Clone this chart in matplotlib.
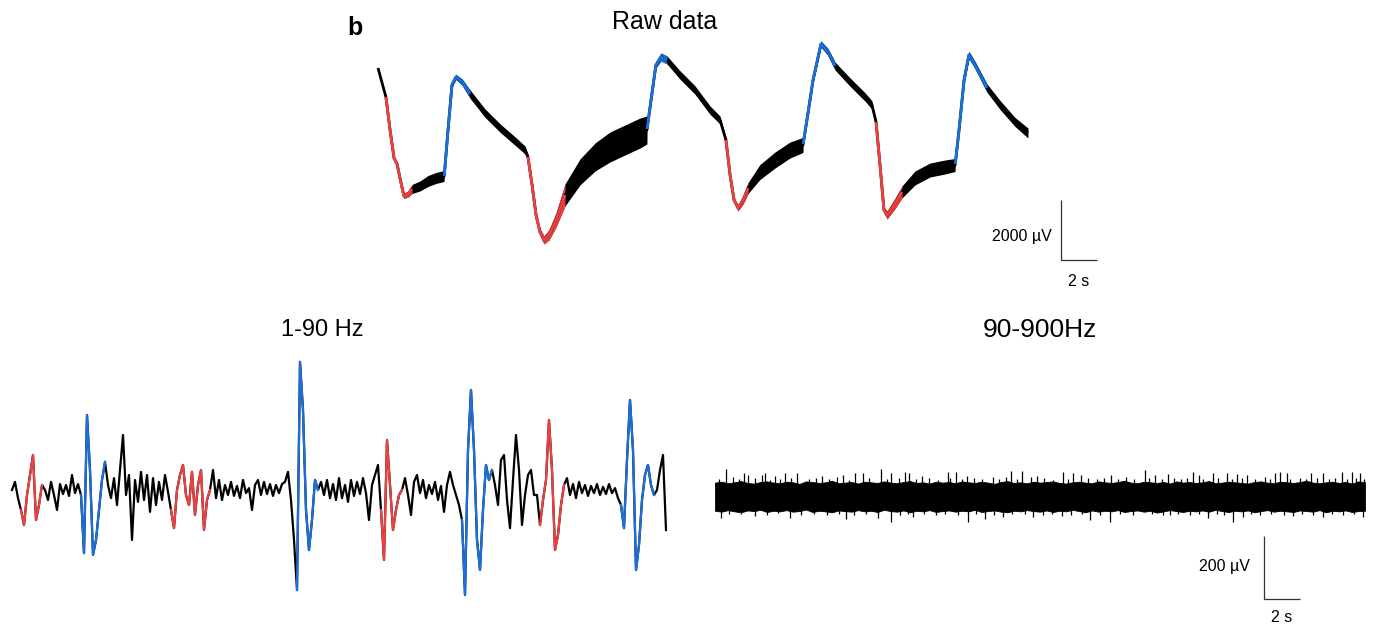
import numpy as np
import matplotlib.pyplot as plt

plt.rcParams['font.family'] = ['Liberation Sans', 'DejaVu Sans']

W, H = 1375, 625
RED = '#ef4040'
BLUE = '#1b6fdc'

# raw recording: key points (s, uV) and half-width of the fast ripple band (uV)
raw_t = [
    0.00, 0.44, 0.67, 0.89, 1.06, 1.22, 1.44, 1.67, 1.89, 2.33,
    2.78, 3.22, 3.67, 3.68, 3.89, 4.11, 4.33, 4.67, 5.11, 5.94, 6.78,
    7.61, 8.17, 8.33, 8.56, 8.78, 9.00, 9.22, 9.50, 9.89, 10.39,
    11.22, 12.06, 12.89, 13.72, 14.56, 14.94, 14.95, 15.17, 15.44, 15.72, 16.06,
    16.78, 17.61, 18.44, 19.00, 19.33, 19.56, 19.78, 20.00, 20.28, 20.56,
    21.22, 22.06, 22.89, 23.61, 23.62, 23.83, 24.17, 24.61, 25.00, 25.39, 26.22,
    27.06, 27.44, 27.67, 27.89, 28.11, 28.28, 28.67, 29.11, 29.83, 30.67,
    31.50, 32.06, 32.07, 32.28, 32.56, 32.83, 33.17, 33.83, 34.56, 35.39, 36.11,
]
raw_uv = [
    2733, 1767, 667, -267, -467, -933, -1533, -1467, -1300, -1200,
    -1033, -933, -867, -867, 667, 2167, 2433, 2267, 1867, 1233, 733,
    300, 0, -233, -1167, -2167, -2733, -3000, -2833, -2333, -1500,
    -733, -233, 100, 333, 567, 667, 700, 1667, 2833, 3100, 3000,
    2500, 2000, 1333, 1000, 333, -833, -1667, -1933, -1667, -1267,
    -733, -333, 0, 167, 200, 1000, 2333, 3533, 3267, 2800, 2267,
    1767, 1500, 933, -500, -2000, -2167, -1833, -1400, -933, -667,
    -567, -500, -467, 667, 2333, 3167, 2833, 2067, 1500, 933, 567,
]
raw_half = [
    33, 50, 50, 50, 67, 67, 83, 100, 150, 167,
    183, 183, 183, 50, 50, 67, 83, 100, 140, 140, 140,
    140, 133, 100, 50, 67, 100, 133, 167, 233, 367,
    433, 467, 500, 500, 500, 467, 83, 83, 100, 133, 133,
    140, 140, 140, 133, 83, 50, 67, 100, 133, 183,
    250, 267, 267, 250, 67, 67, 83, 100, 117, 133, 140,
    140, 140, 100, 50, 83, 133, 167, 200, 233, 233,
    233, 217, 67, 67, 83, 117, 117, 140, 150, 150, 167,
]
raw_red = [(0.44, 1.89), (8.33, 10.39), (19.33, 20.56), (27.67, 29.11)]
raw_blue = [(3.68, 5.11), (14.95, 16.06), (23.62, 25.39), (32.07, 33.83)]

# 1-90 Hz band, one sample every 1/6 s (uV)
lf_dt = 1 / 6
lf_uv = [
    0, 26, -26, -64, -112, -16, 48, 112, -96, -48,
    16, 0, -32, 26, -16, -64, 19, -13, 16, -19,
    48, -10, 19, -16, -202, 240, 64, -208, -160, -64,
    32, 90, 16, -26, 38, -48, 64, 176, -16, 48,
    -160, 32, -38, 58, -32, 48, -70, 38, -48, 26,
    -32, 48, -6, -64, -122, 0, 48, 80, -16, -48,
    58, -80, 16, 64, -128, -32, 0, 64, -26, 32,
    -32, 16, -16, 26, -19, 13, -26, 32, -10, 6,
    -64, 16, 32, -16, 26, -13, 19, -19, 16, -10,
    19, 26, 58, -32, -160, -320, 410, 256, -64, -192,
    -96, 32, 0, 26, -16, 32, -26, 19, -32, 38,
    -26, 16, -38, 32, -19, 26, -13, 38, -10, -96,
    16, 48, 80, -64, -224, 160, 16, -128, -64, -16,
    0, 38, -16, -80, 26, 48, -10, 32, -26, 16,
    -13, 26, -32, 13, -70, 16, 58, 16, -16, -48,
    -96, -336, 128, 320, 128, -160, -256, -64, 80, 32,
    64, 16, -48, 96, 112, -32, -122, 32, 176, 64,
    -112, -16, 48, 64, -16, -16, -112, -32, 32, 224,
    64, -192, -144, -48, 16, 38, -16, 19, -26, 26,
    -10, 16, -19, 13, -10, 19, -16, 10, -13, 19,
    -10, 6, -26, -48, -122, 96, 288, 128, -256, -176,
    -32, 48, 80, 16, -16, 0, 64, 112, -128,
]
lf_red = [(0.50, 1.83), (8.83, 11.00), (20.50, 21.67), (29.17, 30.67)]
lf_blue = [(3.83, 5.33), (15.83, 17.00), (25.00, 26.83), (33.83, 35.83)]

# 90-900 Hz band: envelope every 0.361 s plus the isolated spikes (uV)
hf_dt = 0.3611
hf_upper = [
    46, 49, 44, 47, 51, 45, 43, 48, 50, 46,
    44, 49, 47, 42, 50, 48, 45, 47, 52, 44,
    46, 48, 43, 49, 47, 45, 50, 46, 44, 48,
    51, 45, 47, 43, 49, 46, 48, 44, 50, 47,
    45, 49, 46, 42, 48, 51, 45, 47, 44, 49,
    46, 48, 50, 45, 43, 47, 49, 46, 44, 50,
    47, 45, 48, 52, 46, 44, 49, 47, 45, 48,
    43, 50, 46, 48, 45, 47, 51, 44, 46, 49,
    47, 45, 43, 48, 50, 46, 44, 49, 47, 45,
    48, 52, 46, 44, 47, 49, 45, 48, 43, 50,
    47,
]
hf_lower = [
    -44, -47, -42, -46, -49, -43, -45, -41, -48, -44,
    -46, -42, -47, -45, -40, -48, -44, -46, -49, -43,
    -45, -47, -42, -46, -44, -48, -41, -45, -47, -43,
    -49, -44, -46, -42, -48, -45, -43, -47, -44, -46,
    -41, -48, -45, -43, -47, -49, -44, -46, -42, -45,
    -47, -43, -48, -44, -46, -41, -45, -49, -43, -47,
    -44, -46, -42, -48, -45, -43, -47, -44, -50, -46,
    -42, -45, -48, -44, -46, -43, -47, -41, -45, -48,
    -44, -46, -43, -49, -45, -42, -47, -44, -46, -48,
    -43, -45, -47, -42, -49, -44, -46, -43, -48, -45,
    -44,
]
spike_up_t = [
    0.20, 0.61, 1.00, 1.35, 1.61, 1.83, 2.20, 2.61, 2.78, 3.05,
    3.33, 3.60, 3.89, 4.25, 4.56, 5.20, 5.60, 5.94, 6.35, 6.80,
    7.11, 7.45, 7.78, 8.22, 8.55, 9.22, 9.55, 9.78, 10.20, 10.56,
    10.78, 11.15, 11.50, 11.90, 12.40, 12.94, 13.05, 13.39, 13.70, 14.00,
    14.40, 14.85, 15.44, 15.80, 16.15, 16.44, 16.80, 17.06, 17.56, 17.89,
    18.30, 18.75, 19.33, 19.60, 19.89, 20.33, 20.70, 21.20, 21.60, 22.00,
    22.40, 22.85, 23.30, 23.89, 24.10, 24.44, 24.85, 25.17, 25.50, 25.90,
    26.20, 26.56, 26.89, 27.10, 27.67, 27.95, 28.44, 28.70, 29.00, 29.30,
    29.56, 30.00, 30.55, 30.85, 31.11, 31.39, 31.78, 31.95, 32.50, 32.85,
    33.11, 33.45, 33.78, 34.10, 34.45, 34.83, 35.10, 35.39, 35.60, 35.83,
    36.05,
]
spike_up_uv = [
    58, 90, 64, 57, 77, 70, 60, 70, 77, 56,
    67, 59, 77, 62, 77, 57, 61, 67, 58, 63,
    70, 56, 77, 77, 60, 90, 58, 77, 62, 80,
    77, 57, 67, 60, 56, 80, 62, 80, 58, 67,
    61, 57, 64, 59, 63, 83, 57, 83, 64, 67,
    60, 56, 80, 58, 77, 70, 62, 57, 61, 70,
    59, 63, 57, 86, 60, 70, 58, 74, 62, 57,
    61, 80, 70, 59, 77, 60, 77, 57, 74, 61,
    70, 58, 63, 57, 77, 80, 77, 59, 62, 57,
    77, 60, 77, 58, 62, 80, 57, 80, 61, 77,
    58,
]
spike_dn_t = [
    0.33, 0.80, 1.45, 2.22, 2.90, 3.50, 4.17, 4.80, 5.50, 6.20,
    6.90, 7.28, 7.75, 8.40, 9.06, 9.78, 10.30, 10.70, 11.00, 11.60,
    12.30, 12.80, 13.50, 14.06, 14.50, 15.00, 15.50, 16.00, 16.50, 17.20,
    17.67, 18.20, 18.70, 19.28, 19.80, 20.40, 20.83, 21.40, 21.94, 22.50,
    23.20, 24.30, 24.90, 25.28, 25.70, 26.40, 26.90, 27.39, 27.90, 28.30,
    28.78, 29.33, 29.80, 30.30, 30.90, 31.60, 32.11, 32.60, 33.20, 33.78,
    34.30, 34.90, 35.50, 36.00,
]
spike_dn_uv = [
    -67, -55, -53, -61, -56, -52, -67, -57, -54, -58,
    -53, -70, -56, -54, -67, -80, -57, -53, -64, -55,
    -58, -53, -56, -80, -54, -70, -57, -64, -55, -53,
    -64, -58, -54, -61, -56, -53, -74, -57, -80, -55,
    -58, -54, -56, -58, -53, -57, -55, -67, -54, -58,
    -80, -64, -55, -57, -53, -58, -61, -54, -56, -64,
    -55, -57, -53, -64,
]


def px_axes(fig, x0, y0, x1, y1, xlim, ylim):
    """axes placed by pixel box, data limits chosen by the caller"""
    ax = fig.add_axes([x0 / W, 1 - y1 / H, (x1 - x0) / W, (y1 - y0) / H])
    ax.set_xlim(*xlim)
    ax.set_ylim(*ylim)
    ax.set_axis_off()
    return ax


def in_window(t, t0, t1):
    return (t >= t0 - 1e-6) & (t <= t1 + 1e-6)


def scale_bar(ax, t0, v0, dt, dv):
    ax.plot([t0, t0, t0 + dt], [v0 + dv, v0, v0], color='#333333', lw=0.9,
            solid_joinstyle='miter', solid_capstyle='butt')


fig = plt.figure(figsize=(W / 100, H / 100), dpi=100)

# ---- raw data
ax = px_axes(fig, 370, 30, 1110, 290, (-8 / 18, 732 / 18), (-4667, 4000))
t = np.array(raw_t)
c = np.array(raw_uv)
h = np.array(raw_half)
ax.fill_between(t, c - h, c + h, color='black', lw=0)
ax.plot(t, c, color='black', lw=2.0, solid_capstyle='butt')
for windows, colour in [(raw_red, RED), (raw_blue, BLUE)]:
    for t0, t1 in windows:
        m = in_window(t, t0, t1)
        ax.fill_between(t[m], (c - h)[m], (c + h)[m], color=colour, lw=0)
        ax.plot(t[m], c[m], color=colour, lw=2.0, solid_capstyle='butt')

scale_bar(ax, 37.94, -3667, 2, 2000)
ax.text(37.44, -2900, '2000 µV', ha='right', va='center', fontsize=11.5)
ax.text(38.94, -4400, '2 s', ha='center', va='center', fontsize=11.5)

# ---- 1-90 Hz
ax = px_axes(fig, 0, 340, 700, 625, (-12 / 18, 688 / 18), (-432, 480))
t = np.arange(len(lf_uv)) * lf_dt
v = np.array(lf_uv)
ax.plot(t, v, color='black', lw=1.6)
for windows, colour in [(lf_red, RED), (lf_blue, BLUE)]:
    for t0, t1 in windows:
        m = in_window(t, t0, t1)
        ax.plot(t[m], v[m], color=colour, lw=1.6)

# ---- 90-900 Hz
ax = px_axes(fig, 700, 440, 1375, 625, (-15 / 18, 660 / 18), (-409.6, 182.4))
t = np.arange(len(hf_upper)) * hf_dt
ax.fill_between(t, hf_lower, hf_upper, color='black', lw=0.6)
ax.vlines(spike_up_t, 0, spike_up_uv, color='black', lw=0.9)
ax.vlines(spike_dn_t, spike_dn_uv, 0, color='black', lw=0.9)

scale_bar(ax, 30.5, -325, 2, 200)
ax.text(29.72, -224, '200 µV', ha='right', va='center', fontsize=11.5)
ax.text(31.5, -387, '2 s', ha='center', va='center', fontsize=11.5)

# ---- panel labels
fig.text(355 / W, 1 - 28 / H, 'b', ha='center', va='center',
         fontsize=18, fontweight='bold')
fig.text(665 / W, 1 - 22 / H, 'Raw data', ha='center', va='center', fontsize=18)
fig.text(322 / W, 1 - 330 / H, '1-90 Hz', ha='center', va='center', fontsize=17)
fig.text(1040 / W, 1 - 330 / H, '90-900Hz', ha='center', va='center', fontsize=19)

fig.savefig('out.png', dpi=100)
plt.close(fig)
